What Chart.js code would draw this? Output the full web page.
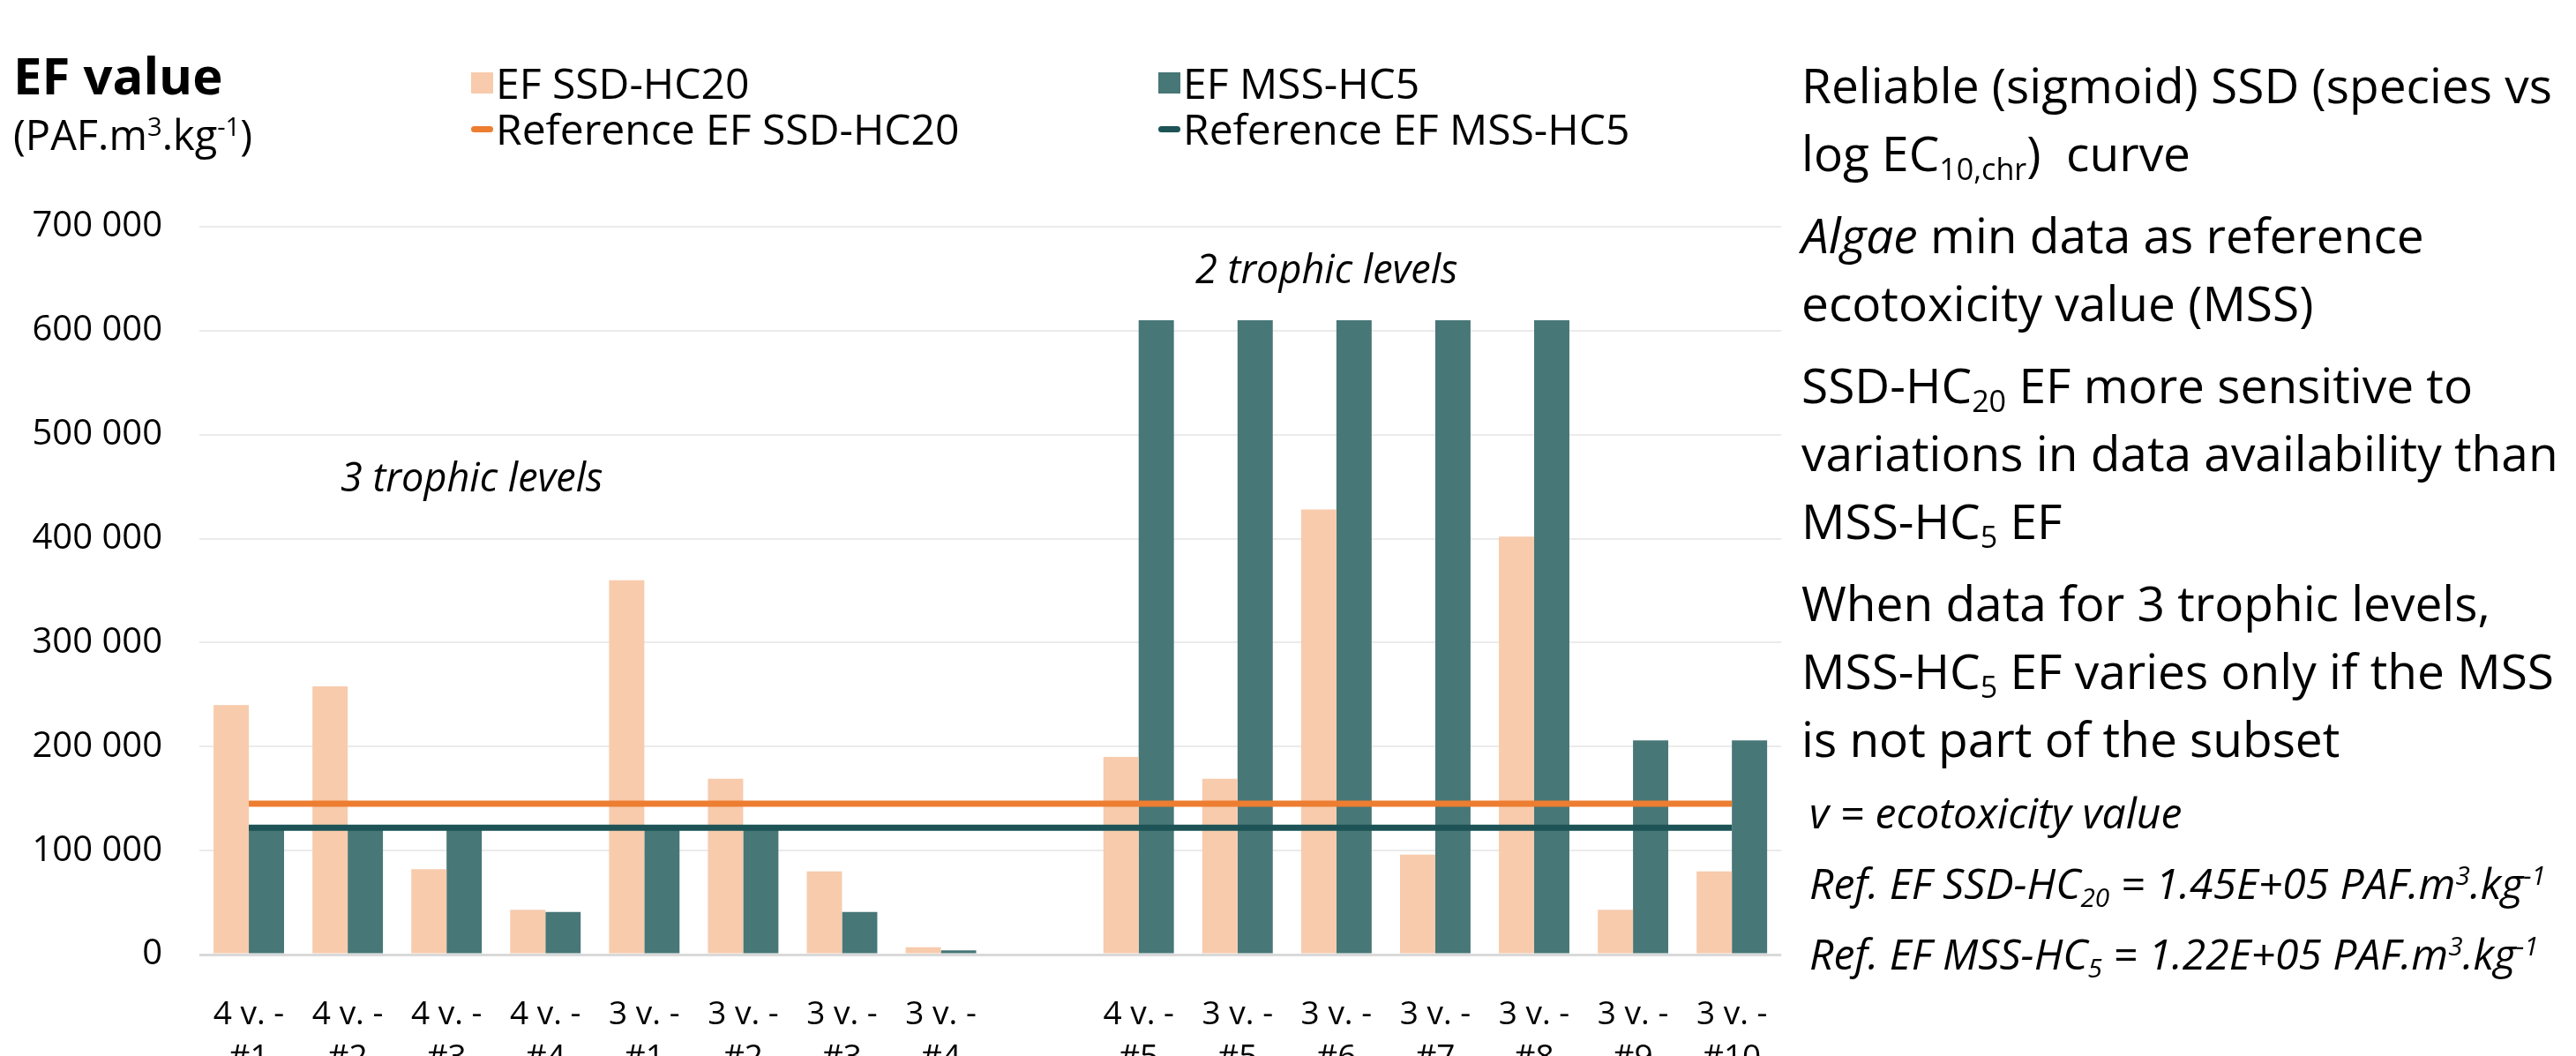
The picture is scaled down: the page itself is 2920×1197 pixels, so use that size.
<!DOCTYPE html>
<html lang="en">
<head>
    <meta charset="UTF-8">
    <title>EF value</title>
    <script src="https://cdn.jsdelivr.net/npm/chart.js"></script>
    <style>
        body {
            margin: 0;
            background: #fff;
            font-family: "Open Sans", sans-serif;
            color: #000;
        }
        .page {
            position: relative;
            width: 2920px;
            height: 1197px;
            overflow: hidden;
        }
        .chart-box {
            position: absolute;
            left: 0;
            top: 0;
            width: 2040px;
            height: 1197px;
        }
        .title {
            position: absolute;
            left: 15px;
            top: 56px;
            font-size: 58px;
            font-weight: bold;
            line-height: 1;
        }
        .unit {
            position: absolute;
            left: 15px;
            top: 129px;
            font-size: 47px;
            line-height: 1;
        }
        sup, sub {
            font-size: 0.62em;
            line-height: 0;
        }
        sup { vertical-align: 0.55em; }
        sub { vertical-align: -0.3em; }
        #legend {
            position: absolute;
            left: 534px;
            top: 68px;
            display: grid;
            grid-template-columns: 779px auto;
            grid-auto-rows: 52px;
            font-size: 48px;
            line-height: 52px;
        }
        .item {
            display: flex;
            align-items: center;
            white-space: nowrap;
        }
        .swatch {
            display: inline-block;
            width: 25px;
            margin-right: 3px;
            flex: none;
        }
        .note {
            position: absolute;
            font-style: italic;
            font-size: 45px;
            white-space: nowrap;
            line-height: 1;
        }
        .side {
            position: absolute;
            left: 2042px;
            top: 57px;
            font-size: 55px;
            line-height: 77px;
            white-space: nowrap;
        }
        .side p {
            margin: 0 0 16px 0;
        }
        .side-small {
            position: absolute;
            left: 2051px;
            top: 881px;
            font-size: 48px;
            line-height: 80px;
            font-style: italic;
            white-space: nowrap;
        }
    </style>
</head>
<body>
<div class="page">
    <div class="chart-box"><canvas id="chart"></canvas></div>

    <div class="title">EF value</div>
    <div class="unit">(PAF.m<sup>3</sup>.kg<sup>-1</sup>)</div>
    <div id="legend"></div>

    <div class="note" style="left:386px; top:517px;">3 trophic levels</div>
    <div class="note" style="left:1355px; top:281px;">2 trophic levels</div>

    <div class="side">
        <p>Reliable (sigmoid) SSD (species vs<br>log EC<sub>10,chr</sub>)&nbsp; curve</p>
        <p><i>Algae</i> min data as reference<br>ecotoxicity value (MSS)</p>
        <p>SSD-HC<sub>20</sub> EF more sensitive to<br>variations in data availability than<br>MSS-HC<sub>5</sub> EF</p>
        <p>When data for 3 trophic levels,<br>MSS-HC<sub>5</sub> EF varies only if the MSS<br>is not part of the subset</p>
    </div>
    <div class="side-small">
        v = ecotoxicity value<br>
        Ref. EF SSD-HC<sub>20</sub> = 1.45E+05 PAF.m<sup>3</sup>.kg<sup>-1</sup><br>
        Ref. EF MSS-HC<sub>5</sub> = 1.22E+05 PAF.m<sup>3</sup>.kg<sup>-1</sup>
    </div>
</div>

<script>
    // categories (blank slot separates the 3 and 2 trophic level groups)
    const labels = [
        ['4 v. -', '#1'], ['4 v. -', '#2'], ['4 v. -', '#3'], ['4 v. -', '#4'],
        ['3 v. -', '#1'], ['3 v. -', '#2'], ['3 v. -', '#3'], ['3 v. -', '#4'],
        '',
        ['4 v. -', '#5'], ['3 v. -', '#5'], ['3 v. -', '#6'], ['3 v. -', '#7'],
        ['3 v. -', '#8'], ['3 v. -', '#9'], ['3 v. -', '#10']
    ];

    const efSSD = [240000, 258000, 82000, 43000, 360000, 169000, 80000, 7000, null,
                   190000, 169000, 428000, 96000, 402000, 43000, 80000];
    const efMSS = [122000, 122000, 122000, 41000, 122000, 122000, 41000, 4000, null,
                   610000, 610000, 610000, 610000, 610000, 206000, 206000];
    const refSSD = [145000, 145000, 145000, 145000, 145000, 145000, 145000, 145000, 145000,
                    145000, 145000, 145000, 145000, 145000, 145000, 145000];
    const refMSS = [122000, 122000, 122000, 122000, 122000, 122000, 122000, 122000, 122000,
                    122000, 122000, 122000, 122000, 122000, 122000, 122000];

    const yTicks = [0, 100000, 200000, 300000, 400000, 500000, 600000, 700000];

    const fmt = v => String(v).replace(/\B(?=(\d{3})+(?!\d))/g, ' ');

    const ctx = document.getElementById('chart');
    const chart = new Chart(ctx, {
        type: 'bar',
        data: {
            labels: labels,
            datasets: [
                { label: 'EF SSD-HC20', data: efSSD, backgroundColor: '#f7cbac', order: 2 },
                { label: 'EF MSS-HC5', data: efMSS, backgroundColor: '#477776', order: 2 },
                { type: 'line', label: 'Reference EF SSD-HC20', data: refSSD, borderColor: '#ed7d31',
                  borderWidth: 7, pointRadius: 0, order: 1 },
                { type: 'line', label: 'Reference EF MSS-HC5', data: refMSS, borderColor: '#1d5356',
                  borderWidth: 7, pointRadius: 0, order: 1 }
            ]
        },
        options: {
            responsive: true,
            maintainAspectRatio: false,
            animation: false,
            layout: { padding: { top: 257, right: 19, bottom: 0, left: 0 } },
            datasets: {
                bar: { categoryPercentage: 0.713, barPercentage: 1.0 }
            },
            plugins: {
                legend: { display: false },
                tooltip: { enabled: false }
            },
            scales: {
                x: {
                    grid: { display: false },
                    border: { display: false },
                    ticks: {
                        color: '#000',
                        font: { family: 'Open Sans', size: 37, lineHeight: 1.33 },
                        padding: 36,
                        maxRotation: 0,
                        autoSkip: false
                    },
                    afterFit: s => { s.height = 115; }
                },
                y: {
                    min: 0,
                    max: 700000,
                    afterBuildTicks: s => { s.ticks = yTicks.map(v => ({ value: v })); },
                    border: { display: false },
                    grid: {
                        drawTicks: false,
                        lineWidth: c => c.tick && c.tick.value === 0 ? 3 : 2,
                        color: c => c.tick && c.tick.value === 0 ? '#d9d9d9' : '#ebebeb'
                    },
                    ticks: {
                        color: '#000',
                        font: { family: 'Open Sans', size: 40 },
                        padding: 42,
                        callback: v => fmt(v)
                    },
                    afterFit: s => { s.width = 226; }
                }
            }
        }
    });

    // legend built from the chart's datasets
    const legend = document.getElementById('legend');
    chart.data.datasets.forEach(ds => {
        const item = document.createElement('div');
        item.className = 'item';
        const sw = document.createElement('span');
        sw.className = 'swatch';
        if (ds.type === 'line') {
            sw.style.height = '7px';
            sw.style.borderRadius = '4px';
            sw.style.background = ds.borderColor;
        } else {
            sw.style.height = '24px';
            sw.style.background = ds.backgroundColor;
        }
        item.appendChild(sw);
        item.appendChild(document.createTextNode(ds.label));
        legend.appendChild(item);
    });
</script>
</body>
</html>
